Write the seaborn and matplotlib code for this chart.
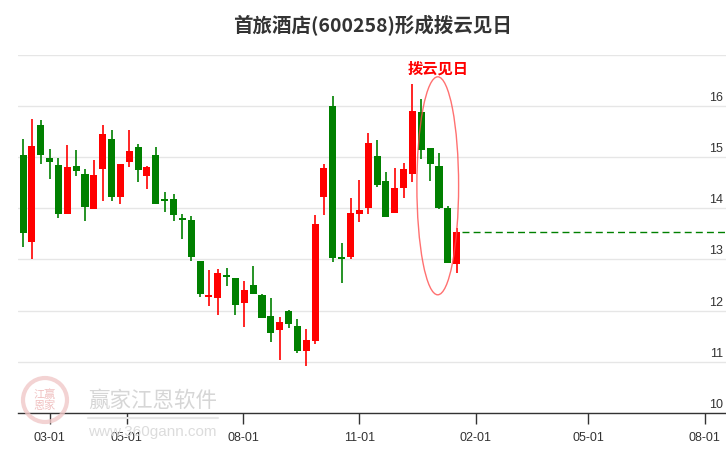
import numpy as np
import pandas as pd
import seaborn as sns
import matplotlib.pyplot as plt
import matplotlib.dates as mdates
from matplotlib.patches import Ellipse
from matplotlib.transforms import blended_transform_factory

# weekly candles, 600258
week_start = '2024-02-09'
n_weeks = 50
open_ = [15.04, 13.35, 15.63, 14.98, 14.85, 13.88, 14.83, 14.67, 13.98, 14.76,
         15.36, 14.23, 14.90, 15.20, 14.64, 15.04, 14.17, 14.18, 13.81, 13.77,
         12.97, 12.26, 12.24, 12.68, 12.64, 12.14, 12.50, 12.30, 11.90, 11.63,
         11.99, 11.70, 11.22, 11.40, 14.23, 16.00, 13.03, 13.04, 13.88, 14.01,
         15.02, 14.53, 13.90, 14.39, 14.68, 15.88, 15.18, 14.83, 14.00, 12.92]
close = [13.51, 15.22, 15.04, 14.90, 13.88, 14.81, 14.72, 14.03, 14.65, 15.45,
         14.23, 14.87, 15.12, 14.74, 14.81, 14.09, 14.15, 13.86, 13.78, 13.04,
         12.33, 12.29, 12.74, 12.66, 12.12, 12.40, 12.33, 11.86, 11.57, 11.78,
         11.74, 11.22, 11.43, 13.70, 14.79, 13.02, 13.01, 13.90, 13.97, 15.28,
         14.46, 13.84, 14.40, 14.77, 15.90, 15.13, 14.87, 14.00, 12.94, 13.54]
high = [15.35, 15.75, 15.73, 15.15, 14.98, 15.24, 15.14, 14.77, 14.95, 15.63,
        15.53, 14.87, 15.53, 15.25, 14.83, 15.20, 14.32, 14.28, 13.89, 13.85,
        12.97, 12.79, 12.81, 12.84, 12.64, 12.58, 12.87, 12.32, 12.24, 11.88,
        12.02, 11.83, 11.64, 13.87, 14.87, 16.20, 13.32, 14.20, 14.55, 15.47,
        15.34, 14.71, 14.79, 14.89, 16.43, 16.14, 15.18, 15.08, 14.04, 13.62]
low = [13.25, 13.00, 14.86, 14.58, 13.82, 13.88, 14.63, 13.76, 13.98, 14.15,
       14.15, 14.08, 14.80, 14.52, 14.37, 14.09, 13.92, 13.76, 13.41, 12.98,
       12.26, 12.10, 11.92, 12.48, 11.91, 11.69, 12.33, 11.85, 11.39, 11.04,
       11.67, 11.18, 10.91, 11.35, 13.86, 12.96, 12.55, 13.00, 13.74, 13.88,
       14.42, 13.84, 13.90, 14.21, 14.52, 14.97, 14.54, 13.98, 12.94, 12.74]

tick_dates = ['2024-03-01', '2024-05-01', '2024-08-01', '2024-11-01',
              '2025-02-01', '2025-05-01', '2025-08-01']
tick_labels = ['03-01', '05-01', '08-01', '11-01', '02-01', '05-01', '08-01']
price_ticks = [10, 11, 12, 13, 14, 15, 16]

title = '首旅酒店(600258)形成拨云见日'
pattern = '拨云见日'

df = pd.DataFrame({'date': pd.date_range(week_start, periods=n_weeks, freq='7D'),
                   'open': open_, 'close': close, 'high': high, 'low': low})
df['color'] = np.where(df['close'] >= df['open'], '#ff0000', '#008000')
df['bottom'] = df[['open', 'close']].min(axis=1)
df['body'] = (df['close'] - df['open']).abs().clip(lower=0.04)

sns.set_style('white')
plt.rcParams['font.family'] = ['Liberation Sans', 'Noto Sans CJK SC', 'DejaVu Sans']

fig = plt.figure(figsize=(7.26, 4.5), dpi=100)
ax = fig.add_axes([18 / 726, 37 / 450, 708 / 726, 358.2 / 450])

ax.vlines(df['date'], df['low'], df['high'], colors=df['color'], linewidth=1.2, zorder=2)
ax.bar(df['date'], df['body'], bottom=df['bottom'], width=5.6, color=df['color'],
       linewidth=0, zorder=3)

# dashed level at last close
last = df.iloc[-1]
level = pd.DataFrame({'date': [last['date'] + pd.Timedelta(days=4), pd.Timestamp('2025-08-18')],
                      'price': [last['close'], last['close']]})
sns.lineplot(data=level, x='date', y='price', ax=ax, color='#008000', linewidth=1,
             linestyle=(0, (5, 3)), zorder=4)

# pattern ellipse
ell_x = mdates.date2num(pd.Timestamp('2025-01-02'))
ell = Ellipse((ell_x, 14.44), width=33, height=4.26,
              fill=False, edgecolor='#ff4d4d', linewidth=1, alpha=0.8, zorder=5)
ax.add_patch(ell)
ax.text(ell_x, 16.74, pattern, color='#ff0000', fontsize=11,
        fontweight='bold', ha='center', va='center', family=['Noto Sans CJK SC'])

ax.set_xlim(pd.Timestamp('2024-02-05'), pd.Timestamp('2025-08-18'))
ax.set_ylim(10, 17)
ax.set_yticks(price_ticks + [17])
ax.set_xticks(pd.to_datetime(tick_dates))
ax.set_xticklabels(tick_labels)
ax.tick_params(axis='x', length=8, width=1, color='#333333', labelsize=9,
               labelcolor='#333333', pad=6, bottom=True)
ax.tick_params(axis='y', length=0, labelleft=False)
ax.grid(axis='y', color='#e6e6e6', linewidth=1)
ax.set_axisbelow(True)
for s in ['top', 'left', 'right']:
    ax.spines[s].set_visible(False)
ax.spines['bottom'].set_color('#333333')
ax.spines['bottom'].set_linewidth(1)
ax.set_xlabel('')
ax.set_ylabel('')

tr = blended_transform_factory(ax.transAxes, ax.transData)
for p in price_ticks:
    ax.text(0.996, p + 0.04, str(p), transform=tr, ha='right', va='bottom',
            fontsize=9, color='#333333')

fig.text(372 / 726, 1 - 26 / 450, title, ha='center', va='center', fontsize=14,
         fontweight='bold', color='#333333', family=['Noto Sans CJK SC'])

# watermark
fig.add_artist(Ellipse((45 / 726, 1 - 400 / 450), 44 / 726, 44 / 450, transform=fig.transFigure,
                       fill=False, edgecolor='#f0c8c8', linewidth=3, alpha=0.8))
fig.text(45 / 726, 1 - 400 / 450, '江赢\n恩家', ha='center', va='center', fontsize=8,
         color='#f0c0c0', family=['Noto Sans CJK SC'], linespacing=1.0)
fig.text(88 / 726, 1 - 401 / 450, '赢家江恩软件', ha='left', va='center', fontsize=15.5,
         color='#d6d6d6', family=['Noto Sans CJK SC'])
fig.add_artist(plt.Line2D([88 / 726, 218 / 726], [1 - 418 / 450, 1 - 418 / 450],
                          transform=fig.transFigure, color='#e6e6e6', linewidth=1.5))
fig.text(88 / 726, 1 - 432 / 450, 'www.360gann.com', ha='left', va='center', fontsize=11,
         color='#dcdcdc')

fig.savefig('out.png', dpi=100)
